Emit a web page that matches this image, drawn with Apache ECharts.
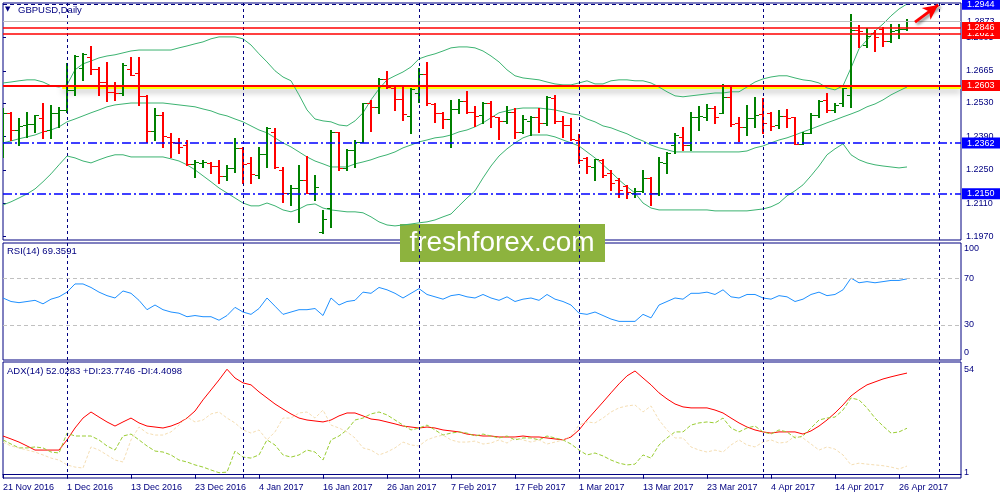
<!DOCTYPE html>
<html><head><meta charset="utf-8">
<script src="https://cdn.jsdelivr.net/npm/echarts@6/dist/echarts.min.js"></script>
<style>html,body{margin:0;padding:0;background:#fff}#c{width:1000px;height:500px}</style>
</head><body><div id="c"></div>
<script>
// ---- data ----
const tickLabels = ['21 Nov 2016','1 Dec 2016','13 Dec 2016','23 Dec 2016','4 Jan 2017','16 Jan 2017','26 Jan 2017','7 Feb 2017','17 Feb 2017','1 Mar 2017','13 Mar 2017','23 Mar 2017','4 Apr 2017','14 Apr 2017','26 Apr 2017'];
const monthStarts = [8, 30, 52, 72, 95, 117];

const open = [1.2480,1.2488,1.2417,1.2438,1.2442,1.2468,1.2417,1.2488,1.2501,1.2585,
1.2677,1.2723,1.2673,1.2618,1.2576,1.2572,1.2673,1.2656,1.2560,1.2413,
1.2480,1.2388,1.2363,1.2354,1.2275,1.2279,1.2279,1.2266,1.2225,1.2258,
1.2342,1.2279,1.2229,1.2317,1.2409,1.2250,1.2153,1.2174,1.2208,1.2153,
1.1990,1.2091,1.2409,1.2258,1.2334,1.2367,1.2530,1.2514,1.2631,1.2593,
1.2547,1.2476,1.2572,1.2652,1.2526,1.2488,1.2463,1.2505,1.2539,1.2493,
1.2480,1.2530,1.2472,1.2455,1.2493,1.2409,1.2455,1.2472,1.2447,1.2551,
1.2455,1.2438,1.2375,1.2300,1.2262,1.2292,1.2237,1.2208,1.2183,1.2153,
1.2162,1.2216,1.2153,1.2279,1.2355,1.2388,1.2354,1.2472,1.2472,1.2509,
1.2489,1.2556,1.2447,1.2430,1.2468,1.2484,1.2489,1.2438,1.2476,1.2472,
1.2359,1.2405,1.2480,1.2543,1.2501,1.2530,1.2564,1.2836,1.2773,1.2824,
1.2840,1.2790,1.2836,1.2840];
const high = [1.2509,1.2493,1.2468,1.2493,1.2480,1.2530,1.2522,1.2514,1.2698,1.2731,
1.2740,1.2769,1.2681,1.2702,1.2618,1.2698,1.2723,1.2723,1.2564,1.2509,
1.2493,1.2405,1.2384,1.2375,1.2292,1.2292,1.2283,1.2292,1.2271,1.2384,
1.2346,1.2304,1.2346,1.2430,1.2426,1.2262,1.2187,1.2271,1.2308,1.2229,
1.2082,1.2417,1.2409,1.2338,1.2375,1.2530,1.2543,1.2635,1.2665,1.2602,
1.2597,1.2593,1.2677,1.2702,1.2530,1.2493,1.2543,1.2547,1.2581,1.2518,
1.2535,1.2539,1.2472,1.2518,1.2509,1.2480,1.2476,1.2509,1.2560,1.2564,
1.2476,1.2468,1.2401,1.2304,1.2296,1.2296,1.2250,1.2216,1.2187,1.2174,
1.2250,1.2220,1.2304,1.2325,1.2405,1.2430,1.2493,1.2518,1.2526,1.2518,
1.2610,1.2597,1.2472,1.2522,1.2556,1.2551,1.2493,1.2501,1.2505,1.2472,
1.2409,1.2489,1.2543,1.2572,1.2530,1.2593,1.2903,1.2857,1.2845,1.2836,
1.2849,1.2861,1.2861,1.2880];
const low = [1.2304,1.2375,1.2354,1.2388,1.2409,1.2384,1.2384,1.2430,1.2493,1.2564,
1.2627,1.2652,1.2564,1.2539,1.2543,1.2564,1.2648,1.2522,1.2367,1.2375,
1.2346,1.2304,1.2321,1.2271,1.2220,1.2262,1.2237,1.2195,1.2208,1.2241,
1.2195,1.2195,1.2216,1.2262,1.2258,1.2116,1.2103,1.2032,1.2153,1.2124,
1.1986,1.2011,1.2250,1.2250,1.2262,1.2367,1.2413,1.2489,1.2593,1.2501,
1.2459,1.2405,1.2535,1.2522,1.2451,1.2426,1.2346,1.2489,1.2489,1.2434,
1.2447,1.2430,1.2380,1.2447,1.2384,1.2405,1.2396,1.2409,1.2438,1.2447,
1.2388,1.2375,1.2279,1.2237,1.2208,1.2220,1.2166,1.2137,1.2132,1.2137,
1.2158,1.2103,1.2145,1.2237,1.2321,1.2334,1.2334,1.2417,1.2459,1.2447,
1.2489,1.2434,1.2371,1.2396,1.2430,1.2405,1.2417,1.2426,1.2430,1.2359,
1.2359,1.2405,1.2472,1.2493,1.2493,1.2518,1.2514,1.2765,1.2765,1.2748,
1.2769,1.2786,1.2803,1.2836];
const close = [1.2488,1.2417,1.2434,1.2442,1.2480,1.2413,1.2488,1.2501,1.2585,1.2727,
1.2736,1.2673,1.2618,1.2576,1.2572,1.2690,1.2648,1.2560,1.2413,1.2480,
1.2392,1.2367,1.2346,1.2275,1.2283,1.2283,1.2266,1.2225,1.2258,1.2342,
1.2275,1.2233,1.2317,1.2426,1.2262,1.2153,1.2174,1.2208,1.2153,1.2178,
1.2044,1.2409,1.2258,1.2334,1.2367,1.2530,1.2514,1.2631,1.2597,1.2547,
1.2484,1.2589,1.2652,1.2530,1.2488,1.2463,1.2505,1.2539,1.2493,1.2476,
1.2530,1.2476,1.2455,1.2493,1.2409,1.2463,1.2472,1.2447,1.2556,1.2455,
1.2438,1.2380,1.2292,1.2266,1.2296,1.2229,1.2195,1.2166,1.2158,1.2162,
1.2216,1.2153,1.2283,1.2321,1.2396,1.2354,1.2472,1.2476,1.2509,1.2472,
1.2556,1.2442,1.2430,1.2468,1.2480,1.2447,1.2434,1.2476,1.2468,1.2359,
1.2405,1.2480,1.2539,1.2501,1.2522,1.2593,1.2836,1.2832,1.2811,1.2807,
1.2790,1.2832,1.2840,1.2873];

const bbUpper = [1.2614,1.2618,1.2623,1.2627,1.2627,1.2618,1.2602,1.2597,1.2606,1.2669,
1.2694,1.2706,1.2719,1.2727,1.2732,1.2740,1.2748,1.2752,1.2752,1.2752,
1.2752,1.2752,1.2761,1.2769,1.2778,1.2786,1.2799,1.2807,1.2807,1.2807,
1.2799,1.2773,1.2736,1.2702,1.2665,1.2639,1.2623,1.2564,1.2501,1.2463,
1.2455,1.2451,1.2438,1.2434,1.2455,1.2489,1.2543,1.2589,1.2627,1.2644,
1.2660,1.2681,1.2715,1.2727,1.2736,1.2748,1.2761,1.2765,1.2765,1.2761,
1.2748,1.2727,1.2702,1.2669,1.2644,1.2635,1.2631,1.2627,1.2618,1.2610,
1.2606,1.2606,1.2614,1.2623,1.2610,1.2610,1.2623,1.2627,1.2627,1.2623,
1.2623,1.2614,1.2597,1.2577,1.2560,1.2556,1.2560,1.2564,1.2568,1.2572,
1.2572,1.2577,1.2577,1.2597,1.2618,1.2631,1.2639,1.2644,1.2644,1.2635,
1.2627,1.2623,1.2614,1.2593,1.2585,1.2602,1.2677,1.2757,1.2794,1.2832,
1.2861,1.2895,1.2924,1.2945];
const bbMiddle = [1.2363,1.2371,1.2380,1.2388,1.2396,1.2409,1.2417,1.2430,1.2451,1.2463,
1.2476,1.2489,1.2501,1.2514,1.2522,1.2526,1.2530,1.2530,1.2530,1.2530,
1.2530,1.2526,1.2522,1.2518,1.2514,1.2505,1.2497,1.2484,1.2476,1.2463,
1.2451,1.2434,1.2417,1.2405,1.2384,1.2363,1.2346,1.2325,1.2304,1.2287,
1.2275,1.2262,1.2262,1.2262,1.2275,1.2283,1.2292,1.2304,1.2313,1.2325,
1.2342,1.2354,1.2367,1.2375,1.2384,1.2388,1.2396,1.2409,1.2417,1.2430,
1.2447,1.2468,1.2489,1.2497,1.2505,1.2509,1.2509,1.2509,1.2505,1.2501,
1.2493,1.2484,1.2480,1.2463,1.2451,1.2434,1.2426,1.2413,1.2401,1.2384,
1.2371,1.2354,1.2342,1.2334,1.2325,1.2325,1.2325,1.2325,1.2325,1.2325,
1.2325,1.2325,1.2325,1.2329,1.2342,1.2350,1.2363,1.2375,1.2384,1.2396,
1.2409,1.2421,1.2434,1.2447,1.2459,1.2472,1.2484,1.2497,1.2514,1.2526,
1.2543,1.2564,1.2581,1.2597];
const bbLower = [1.2103,1.2116,1.2132,1.2149,1.2170,1.2200,1.2233,1.2271,1.2308,1.2300,
1.2287,1.2279,1.2292,1.2304,1.2313,1.2313,1.2304,1.2304,1.2304,1.2304,
1.2304,1.2296,1.2287,1.2271,1.2250,1.2225,1.2200,1.2174,1.2153,1.2132,
1.2111,1.2099,1.2099,1.2111,1.2099,1.2082,1.2074,1.2086,1.2103,1.2107,
1.2090,1.2082,1.2078,1.2074,1.2074,1.2070,1.2053,1.2032,1.2019,1.2015,
1.2019,1.2023,1.2028,1.2032,1.2040,1.2053,1.2065,1.2099,1.2132,1.2162,
1.2216,1.2266,1.2308,1.2338,1.2363,1.2384,1.2396,1.2396,1.2396,1.2388,
1.2375,1.2363,1.2350,1.2325,1.2300,1.2271,1.2241,1.2208,1.2179,1.2153,
1.2111,1.2090,1.2082,1.2082,1.2082,1.2082,1.2082,1.2082,1.2082,1.2078,
1.2078,1.2078,1.2078,1.2078,1.2082,1.2086,1.2095,1.2111,1.2141,1.2162,
1.2187,1.2225,1.2266,1.2313,1.2338,1.2359,1.2313,1.2292,1.2279,1.2271,
1.2266,1.2262,1.2258,1.2262];

const rsi = [53,50,49,50,51,48,52,54,58,65,65,62,58,55,53,59,57,51,43,47,
43,41,40,37,38,37,37,34,38,45,41,39,44,53,46,39,41,43,43,44,
38,53,47,50,51,58,57,62,60,57,53,57,61,56,54,52,55,56,54,53,
56,53,51,54,50,52,53,51,56,52,50,47,40,39,41,38,35,33,33,33,
39,36,47,50,53,52,57,57,58,56,60,54,53,56,56,53,52,55,54,50,
52,56,58,55,56,60,70,66,67,66,67,68,68,69.3591];

const adx = [19.8,18.3,16.7,14.7,12.6,12.6,12.6,12.6,17.8,23.9,29.0,32.1,29.5,27.0,24.9,27.0,29.0,26.5,24.9,24.4,
23.9,24.9,26.5,29.0,32.6,38.3,43.4,48.5,54.0,49.5,47.0,46.0,42.4,39.3,36.2,33.6,31.1,29.0,28.0,27.5,
27.0,28.0,30.1,31.6,31.6,30.1,28.5,28.0,27.0,26.0,24.9,24.4,23.9,24.4,23.9,22.9,22.4,21.9,20.8,20.3,
19.8,19.8,19.3,19.3,19.3,19.8,19.3,19.3,18.8,18.3,17.8,19.3,22.9,28.0,32.6,37.2,41.9,46.5,50.6,53.1,
49.5,46.0,41.9,38.8,36.2,34.7,34.2,34.2,34.2,33.1,31.6,29.0,26.5,24.4,22.9,21.9,21.3,21.9,21.9,21.9,
20.8,22.4,24.9,28.0,31.6,35.7,40.3,43.4,46.0,47.5,49.0,50.1,51.1,52.0283];
const plusDI = [17.8,15.7,13.7,13.7,14.2,13.7,11.6,11.1,21.3,19.8,19.8,19.8,17.8,14.7,12.6,19.8,20.8,17.8,14.7,12.1,
11.6,10.1,7.5,6.5,5.0,3.9,2.4,1.0,1.3,12.1,9.0,8.5,10.1,17.8,15.2,10.1,9.0,10.1,12.6,11.6,
7.5,17.8,19.8,22.9,28.0,29.0,31.1,32.1,30.6,28.0,25.4,22.9,23.9,25.4,22.9,20.3,21.3,21.9,21.3,19.8,
20.8,19.8,18.8,19.8,17.8,18.8,18.8,17.8,19.8,18.8,17.8,15.7,12.6,10.1,11.1,9.6,7.5,5.9,5.0,5.4,
10.1,8.5,15.2,18.8,21.9,21.9,25.4,26.5,27.0,26.5,29.0,23.9,21.9,23.9,24.9,21.9,20.8,22.9,21.9,18.8,
19.8,23.9,28.0,29.0,29.5,33.1,39.3,38.3,34.2,29.0,24.9,21.3,21.9,23.7746];
const minusDI = [16.7,14.7,13.7,12.6,11.6,10.1,8.5,7.5,5.0,3.9,3.4,14.2,12.6,10.1,7.5,6.5,17.8,24.4,21.3,20.3,
20.3,21.9,25.4,29.5,27.0,28.0,31.1,32.1,29.0,26.5,22.9,21.3,22.9,17.8,21.9,29.0,29.0,31.6,32.1,29.0,
33.1,25.4,23.9,21.9,18.8,13.7,12.6,10.1,11.6,13.7,16.7,15.2,14.7,17.8,19.3,20.3,17.8,16.7,16.7,17.2,
15.7,16.2,17.8,16.2,18.8,17.8,16.7,17.8,15.7,16.7,17.8,19.8,25.4,27.0,26.5,29.0,32.1,34.2,35.2,35.7,
32.1,35.2,28.0,22.9,18.8,18.8,14.2,12.6,11.6,12.6,11.6,15.2,17.8,15.2,14.2,16.7,17.8,16.2,16.7,19.8,
18.8,15.7,12.6,14.2,13.1,10.1,5.0,5.9,5.4,5.0,4.6,3.9,2.9,4.4098];

// annotation levels
const redLevels = [1.2821, 1.2846, 1.2603];
const blueLevels = [1.2362, 1.2150];
const topLevel = 1.2944;
const bidLevel = 1.2873;
const zoneX = [7.4, 119.75];
const zoneY = [1.2600, 1.2589];
const arrowFrom = [114, 1.2869];
const arrowTo = [116.9, 1.2941];
const rsiLevels = [30, 70];
const priceTicks = [1.1970, 1.2110, 1.2250, 1.2390, 1.2530, 1.2665, 1.2805];
const rsiTicks = [0, 30, 70, 100];
const adxTicks = [1, 54];
const priceRange = [1.1956, 1.2949];
const adxRange = [-1.7, 57.7];
const xMax = 119.75;

// ---- chart ----
const NAVY = '#000080';
const FONT = 'Liberation Sans';
const chart = echarts.init(document.getElementById('c'));
const idx = a => a.map((v, i) => [i, v]);
const ohlc = close.map((c, i) => [i, open[i], c, low[i], high[i]]);

function vLines() {
  return monthStarts.map(v => [{ coord: [v, -1e9] }, { coord: [v, 1e9] }]);
}
function sepMark(lo, hi) {
  return {
    silent: true, symbol: ['none', 'none'], animation: false,
    label: { show: false },
    lineStyle: { color: NAVY, type: [3, 3], width: 1 },
    data: monthStarts.map(v => [{ coord: [v, lo] }, { coord: [v, hi] }])
  };
}
function boxLabel(txt, bg, fg) {
  return { show: true, position: 'end', distance: 1, formatter: txt, color: fg || '#fff',
    backgroundColor: bg, padding: [1, 8, 0, 5], fontSize: 9, lineHeight: 10, fontFamily: FONT };
}
function hLine(v, lineStyle, label) {
  return [{ coord: [0, v], lineStyle: lineStyle, label: label }, { coord: [xMax, v] }];
}

function renderBar(params, api) {
  const i = api.value(0);
  const o = api.coord([i, api.value(1)]);
  const c = api.coord([i, api.value(2)]);
  const l = api.coord([i, api.value(3)]);
  const h = api.coord([i, api.value(4)]);
  const x = Math.round(o[0]);
  const col = api.value(2) >= api.value(1) ? '#008000' : '#ff0000';
  const oy = Math.round(o[1]) + 0.5, cy = Math.round(c[1]) + 0.5;
  return { type: 'group', children: [
    { type: 'line', shape: { x1: x, y1: Math.round(h[1]), x2: x, y2: Math.round(l[1]) + 1 }, style: { stroke: col, lineWidth: 2 } },
    { type: 'line', shape: { x1: x - 4, y1: oy, x2: x - 1, y2: oy }, style: { stroke: col, lineWidth: 1 } },
    { type: 'line', shape: { x1: x + 1, y1: cy, x2: x + 4, y2: cy }, style: { stroke: col, lineWidth: 1 } }
  ]};
}

const gridBase = { show: true, borderColor: NAVY, borderWidth: 1, backgroundColor: 'transparent' };
const xBase = { type: 'value', min: 0, max: xMax, interval: 8, splitLine: { show: false } };
const yBase = { type: 'value', position: 'right', splitLine: { show: false }, axisLine: { show: false } };

const option = {
  animation: false,
  backgroundColor: '#fff',
  textStyle: { fontFamily: FONT },
  grid: [
    Object.assign({ left: 3, top: 3, width: 958, height: 237 }, gridBase),
    Object.assign({ left: 3, top: 243, width: 958, height: 117 }, gridBase),
    Object.assign({ left: 3, top: 362, width: 958, height: 116 }, gridBase)
  ],
  xAxis: [
    Object.assign({ gridIndex: 0, axisLine: { show: false }, axisTick: { show: false }, axisLabel: { show: false } }, xBase),
    Object.assign({ gridIndex: 1, axisLine: { show: false }, axisTick: { show: false }, axisLabel: { show: false } }, xBase),
    Object.assign({ gridIndex: 2,
      axisLine: { show: true, lineStyle: { color: NAVY } },
      axisTick: { show: true, length: 4, lineStyle: { color: NAVY } },
      axisLabel: { show: true, align: 'left', margin: 5, color: NAVY, fontSize: 9, fontFamily: FONT,
        showMaxLabel: false, formatter: v => tickLabels[Math.round(v / 8)] || '' } }, xBase)
  ],
  yAxis: [
    Object.assign({ gridIndex: 0, min: priceRange[0], max: priceRange[1],
      axisTick: { show: true, length: 3, lineStyle: { color: NAVY }, customValues: priceTicks },
      axisLabel: { show: true, margin: 5, color: NAVY, fontSize: 9, customValues: priceTicks, formatter: v => v.toFixed(4) } }, yBase),
    Object.assign({ gridIndex: 1, min: 0, max: 100,
      axisTick: { show: false },
      axisLabel: { show: true, margin: 3, color: NAVY, fontSize: 9, customValues: rsiTicks,
        formatter: v => v === 100 ? '{t|100}' : (v === 0 ? '{b|0}' : String(v)),
        rich: { t: { padding: [12, 0, 0, 0], fontSize: 9, color: NAVY }, b: { padding: [0, 0, 14, 0], fontSize: 9, color: NAVY } } } }, yBase),
    Object.assign({ gridIndex: 2, min: adxRange[0], max: adxRange[1],
      axisTick: { show: false },
      axisLabel: { show: true, margin: 3, color: NAVY, fontSize: 9, customValues: adxTicks } }, yBase)
  ],
  series: [
    { name: 'BB upper', type: 'line', xAxisIndex: 0, yAxisIndex: 0, data: idx(bbUpper), symbol: 'none', silent: true,
      lineStyle: { color: '#3cb371', width: 1 }, z: 2,
      markArea: { silent: true, itemStyle: { color: '#ffff00', shadowBlur: 6, shadowColor: 'rgba(0,0,0,0.35)', shadowOffsetY: 3 },
        data: [[{ coord: [zoneX[0], zoneY[0]] }, { coord: [zoneX[1], zoneY[1]] }]] },
      markLine: sepMark(priceRange[0], priceRange[1]) },
    { name: 'BB middle', type: 'line', xAxisIndex: 0, yAxisIndex: 0, data: idx(bbMiddle), symbol: 'none', silent: true,
      lineStyle: { color: '#3cb371', width: 1 }, z: 2,
      markLine: { silent: true, symbol: ['none', 'none'], animation: false,
        data: [
          hLine(bidLevel, { color: '#c0c0c0', width: 1, type: 'solid' }, boxLabel(bidLevel.toFixed(4), 'transparent', NAVY)),
          hLine(redLevels[0], { color: '#ff0000', width: 1.5, type: 'solid' }, boxLabel(redLevels[0].toFixed(4), '#ff0000')),
          hLine(redLevels[1], { color: '#ff0000', width: 1.5, type: 'solid' }, boxLabel(redLevels[1].toFixed(4), '#ff0000')),
          hLine(redLevels[2], { color: '#ff0000', width: 2, type: 'solid' }, boxLabel(redLevels[2].toFixed(4), '#ff0000')),
          hLine(topLevel, { color: NAVY, width: 1, type: [4, 3] }, boxLabel(topLevel.toFixed(4), '#0000ff')),
          hLine(blueLevels[0], { color: '#0000ff', width: 1.5, type: [9, 3, 2, 3] }, boxLabel(blueLevels[0].toFixed(4), '#0000ff')),
          hLine(blueLevels[1], { color: '#0000ff', width: 1.5, type: [9, 3, 2, 3] }, boxLabel(blueLevels[1].toFixed(4), '#0000ff'))
        ] } },
    { name: 'BB lower', type: 'line', xAxisIndex: 0, yAxisIndex: 0, data: idx(bbLower), symbol: 'none', silent: true,
      lineStyle: { color: '#3cb371', width: 1 }, z: 2,
      markLine: { silent: true, animation: false, symbol: ['none', 'arrow'], symbolSize: [11, 15],
        label: { show: false },
        lineStyle: { color: '#ff0000', width: 3, type: 'solid', shadowBlur: 3, shadowColor: 'rgba(0,0,0,0.45)', shadowOffsetX: 2, shadowOffsetY: 2 },
        itemStyle: { color: '#ff0000' },
        data: [[{ coord: arrowFrom }, { coord: arrowTo }]] } },
    { name: 'GBPUSD', type: 'custom', xAxisIndex: 0, yAxisIndex: 0, data: ohlc, renderItem: renderBar, clip: true, silent: true, z: 3,
      encode: { x: 0, y: [1, 2, 3, 4] } },
    { name: 'RSI', type: 'line', xAxisIndex: 1, yAxisIndex: 1, data: idx(rsi), symbol: 'none', silent: true,
      lineStyle: { color: '#1e90ff', width: 1 },
      markLine: { silent: true, symbol: ['none', 'none'], animation: false, label: { show: false },
        data: rsiLevels.map(v => hLine(v, { color: '#c0c0c0', type: [4, 3], width: 1 }, { show: false }))
          .concat(monthStarts.map(v => [{ coord: [v, 0], lineStyle: { color: NAVY, type: [3, 3], width: 1 } }, { coord: [v, 100] }])) } },
    { name: 'ADX', type: 'line', xAxisIndex: 2, yAxisIndex: 2, data: idx(adx), symbol: 'none', silent: true,
      lineStyle: { color: '#ff0000', width: 1 }, markLine: sepMark(adxRange[0], adxRange[1]) },
    { name: '+DI', type: 'line', xAxisIndex: 2, yAxisIndex: 2, data: idx(plusDI), symbol: 'none', silent: true,
      lineStyle: { color: '#9acd32', width: 1, type: [4, 2] } },
    { name: '-DI', type: 'line', xAxisIndex: 2, yAxisIndex: 2, data: idx(minusDI), symbol: 'none', silent: true,
      lineStyle: { color: '#f5deb3', width: 1, type: [3, 2] } }
  ],
  graphic: [
    { type: 'text', left: 5, top: 6, z: 10, style: { text: '▼', fontSize: 7, fill: NAVY, fontFamily: 'DejaVu Sans' } },
    { type: 'text', left: 18, top: 5, z: 10, style: { text: 'GBPUSD,Daily', fontSize: 9.5, fill: NAVY, fontFamily: FONT } },
    { type: 'text', left: 7, top: 246, z: 10, style: { text: 'RSI(14) 69.3591', fontSize: 9.5, fill: NAVY, fontFamily: FONT } },
    { type: 'text', left: 7, top: 366, z: 10, style: { text: 'ADX(14) 52.0283 +DI:23.7746 -DI:4.4098', fontSize: 9.5, fill: NAVY, fontFamily: FONT } },
    { type: 'group', left: 400, top: 224, z: 20, children: [
      { type: 'rect', shape: { x: 0, y: 0, width: 205, height: 38 }, style: { fill: '#8db33e' } },
      { type: 'text', x: 102, y: 19, style: { text: 'freshforex.com', fontSize: 28, fill: '#fff', fontFamily: FONT, align: 'center', verticalAlign: 'middle' } }
    ] }
  ]
};
chart.setOption(option);
</script>
</body></html>
